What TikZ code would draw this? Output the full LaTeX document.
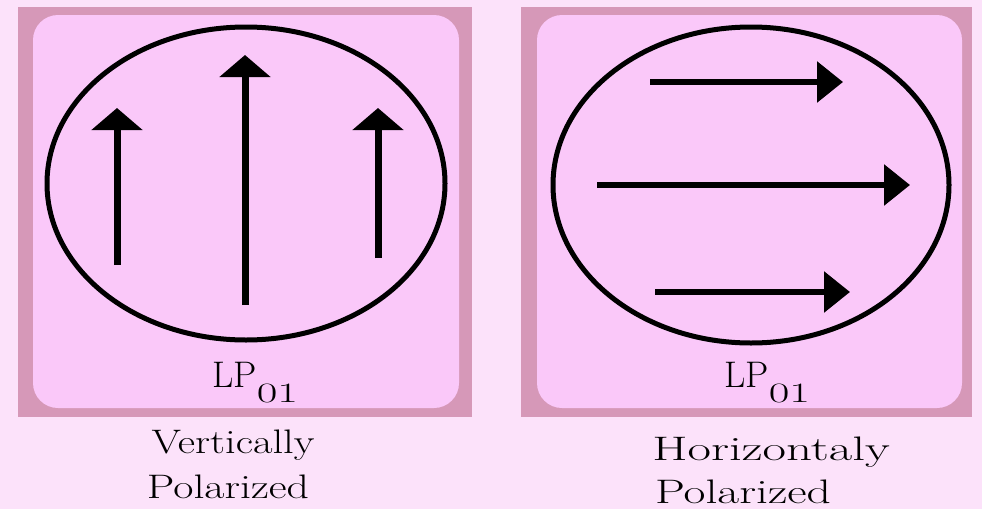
\documentclass[tikz,border=0pt]{standalone}
\usepackage{graphicx}
\usetikzlibrary{arrows.meta}
\definecolor{paper}{RGB}{252,226,250}
\definecolor{frame}{RGB}{214,152,184}
\definecolor{panel}{RGB}{250,200,249}
\newcommand{\wide}[2]{\scalebox{#1}[1]{#2}}
\newcommand{\lpmode}{LP\raisebox{-15pt}{\fontsize{28}{28}\selectfont\wide{1.6}{01}}}

\begin{document}
\begin{tikzpicture}[x=1pt,y=-1pt,
  ring/.style={line width=5pt},
  vfield/.style={line width=7pt,-{Triangle[length=22pt,width=50pt]}},
  hfield/.style={line width=6pt,-{Triangle[length=26pt,width=40pt]}},
  caption/.style={font=\rmfamily\fontsize{34}{36}\selectfont,inner sep=0pt,anchor=base},
  mode/.style={font=\rmfamily\fontsize{37}{40}\selectfont,inner sep=0pt,anchor=base west}]
  \fill[paper] (0,0) rectangle (982,509);
  \useasboundingbox (0,0) rectangle (982,509);
  % panels
  \fill[frame] (18,7) rectangle (472,417);
  \fill[frame] (521,7) rectangle (972,417);
  \fill[panel,rounded corners=25pt] (33,15) rectangle (459,408);
  \fill[panel,rounded corners=25pt] (537,15) rectangle (962,408);
  % vertically polarized
  \coordinate (V) at (246,183.5);
  \draw[ring] (V) ellipse [x radius=199,y radius=156.5];
  \coordinate (vA0) at (117,265);
  \coordinate (vA1) at (117,108);
  \coordinate (vB0) at (245,305);
  \coordinate (vB1) at (245,55);
  \coordinate (vC0) at (378,258);
  \coordinate (vC1) at (378,108);
  \draw[vfield] (vA0)--(vA1);
  \draw[vfield] (vB0)--(vB1);
  \draw[vfield] (vC0)--(vC1);
  \node[mode] (lpV) at (212,387) {\lpmode};
  \node[caption] (capV1) at (233,453) {\wide{1.25}{Vertically}};
  \node[caption] (capV2) at (228,498) {\wide{1.29}{Polarized}};
  % horizontally polarized
  \coordinate (H) at (751,185);
  \draw[ring] (H) ellipse [x radius=198,y radius=158];
  \coordinate (hA0) at (650,82);
  \coordinate (hA1) at (843,82);
  \coordinate (hB0) at (597,185);
  \coordinate (hB1) at (910,185);
  \coordinate (hC0) at (655,292);
  \coordinate (hC1) at (850,292);
  \draw[hfield] (hA0)--(hA1);
  \draw[hfield] (hB0)--(hB1);
  \draw[hfield] (hC0)--(hC1);
  \node[mode] (lpH) at (724,387) {\lpmode};
  \node[caption] (capH1) at (771,460) {\wide{1.5}{Horizontaly}};
  \node[caption] (capH2) at (743,503) {\wide{1.4}{Polarized}};
\end{tikzpicture}
\end{document}
